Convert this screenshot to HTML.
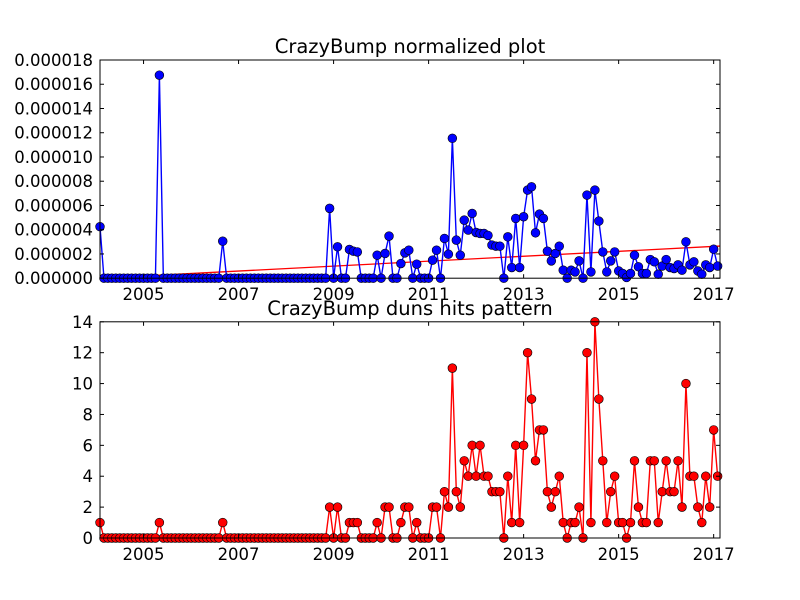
<!DOCTYPE html>
<html><head><meta charset="utf-8"><style>
body{margin:0;background:#fff;}
svg{display:block;font-family:"DejaVu Sans","Liberation Sans",sans-serif;}
</style></head><body>
<svg id="chart" width="800" height="600" xmlns="http://www.w3.org/2000/svg">
<rect width="800" height="600" fill="#fff"/>
</svg>
<script>
const years = [2005, 2007, 2009, 2011, 2013, 2015, 2017];
const hits = [1,0,0,0,0,0,0,0,0,0,0,0,0,0,0,1,0,0,0,0,0,0,0,0,0,0,0,0,0,0,0,1,0,0,0,0,0,0,0,0,0,0,0,0,0,0,0,0,0,0,0,0,0,0,0,0,
0,0,2,0,2,0,0,1,1,1,0,0,0,0,1,0,2,2,0,0,1,2,2,0,1,0,0,0,2,2,0,3,2,11,3,2,5,4,6,4,6,4,4,3,3,3,0,4,1,6,1,6,12,
9,5,7,7,3,2,3,4,1,0,1,1,2,0,12,1,14,9,5,1,3,4,1,1,0,1,5,2,1,1,5,5,1,3,5,3,3,5,2,10,4,4,2,1,4,2,7,4];
const normalized = [4.25,0,0,0,0,0,0,0,0,0,0,0,0,0,0,16.75,0,0,0,0,0,0,0,0,0,0,0,0,0,0,0,3.05,0,0,0,0,0,0,0,0,0,0,0,0,0,0,0,0,0,0,0,0,0,0,0,0,
0,0,5.76,0,2.59,0,0,2.37,2.23,2.17,0,0,0,0,1.9,0,2.04,3.47,0,0,1.21,2.09,2.31,0,1.16,0,0,0,1.49,2.31,0,3.28,1.98,11.54,3.14,1.9,4.79,3.97,5.34,3.77,3.69,3.69,3.53,2.73,2.64,2.64,0,3.41,0.88,4.93,0.88,5.07,7.27,
7.54,3.74,5.29,4.93,2.23,1.43,2.04,2.64,0.66,0,0.66,0.52,1.43,0,6.86,0.52,7.27,4.71,2.17,0.52,1.43,2.17,0.6,0.39,0.06,0.39,1.9,0.94,0.39,0.39,1.54,1.35,0.33,1.0,1.54,0.88,0.8,1.1,0.66,3.0,1.1,1.35,0.6,0.33,1.1,0.88,2.39,1.0];
const topTicks = [0,2,4,6,8,10,12,14,16,18];
const bottomTicks = [0,2,4,6,8,10,12,14];
const trendEnds = [0.0, 2.65];

const NS = "http://www.w3.org/2000/svg";
const svg = document.getElementById('chart');
function el(tag, attrs, parent){const e=document.createElementNS(NS,tag);for(const k in attrs)e.setAttribute(k,attrs[k]);(parent||svg).appendChild(e);return e;}
const L=100,R=720;
const xScale = i => L + i*(R-L)/156.6;
const yearIdx = y => (y-2004)*12 - 1;

function panel(name, top, bottom, ymax, ticks, fmt, vals, color, title, fit){
  const g = el('g',{});
  
  
  const ys = v => bottom - v/ymax*(bottom-top);
  const clipId = name+'-clip';
  const cp = el('clipPath',{id:clipId},g); el('rect',{x:L-6,y:top-6,width:R-L+12,height:bottom-top+12},cp);
  const plot = el('g',{'clip-path':'url(#'+clipId+')'},g);
  if(fit){
    const fl = el('line',{x1:L,y1:ys(fit[0]),x2:R,y2:ys(fit[1]),stroke:'#f00','stroke-width':1.3},plot);
    
    
  }
  const pts = vals.map((v,i)=>xScale(i).toFixed(2)+','+ys(v).toFixed(2)).join(' ');
  const line = el('polyline',{points:pts,fill:'none',stroke:color,'stroke-width':1.4},plot);
  
  
  vals.forEach((v,i)=>{
    const c = el('circle',{cx:xScale(i),cy:ys(v),r:4.4,fill:color,stroke:'#000','stroke-width':0.6},plot);
    
    
  });
  const frame = el('rect',{x:L,y:top,width:R-L,height:bottom-top,fill:'none',stroke:'#000','stroke-width':1},g);
  
  
  ticks.forEach(t=>{
    const y=ys(t);
    el('line',{x1:L,y1:y,x2:L+4,y2:y,stroke:'#000'},g);
    el('line',{x1:R,y1:y,x2:R-4,y2:y,stroke:'#000'},g);
    const tx = el('text',{x:L-7,y:y+6,'text-anchor':'end','font-size':16.5},g);
    tx.textContent = fmt(t);
    
    
  });
  years.forEach(yr=>{
    const x=xScale(yearIdx(yr));
    el('line',{x1:x,y1:bottom,x2:x,y2:bottom-4,stroke:'#000'},g);
    el('line',{x1:x,y1:top,x2:x,y2:top+4,stroke:'#000'},g);
    const tx = el('text',{x:x,y:bottom+22,'text-anchor':'middle','font-size':16.5},g);
    tx.textContent = yr;
    
    
  });
  const tt = el('text',{x:(L+R)/2,y:top-7,'text-anchor':'middle','font-size':19.5},g);
  tt.textContent = title;
  
  
}
panel('normalized-plot',60,278.2,18,topTicks,t=>(t*1e-6).toFixed(6),normalized,'#0000ff','CrazyBump normalized plot',trendEnds);
panel('hits-plot',321.8,538,14,bottomTicks,t=>String(t),hits,'#ff0000','CrazyBump duns hits pattern',null);
</script>
</body></html>
